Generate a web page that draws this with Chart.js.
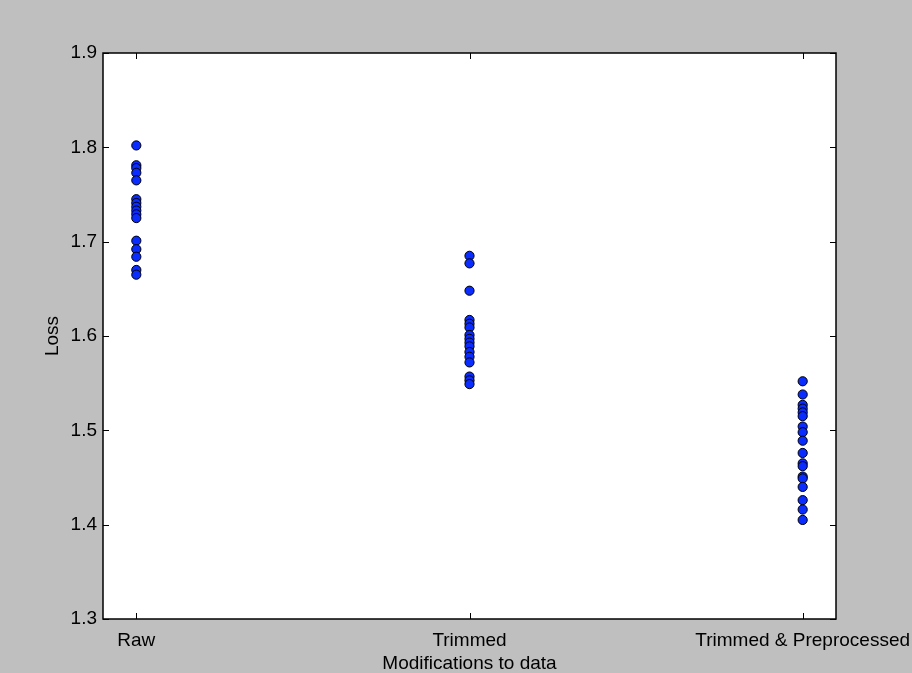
<!DOCTYPE html>
<html>
<head>
<meta charset="utf-8">
<script src="https://cdn.jsdelivr.net/npm/chart.js@4/dist/chart.umd.min.js"></script>
<style>
    html, body { margin: 0; padding: 0; background: #bfbfbf; }
    #wrap { width: 912px; height: 673px; }
</style>
</head>
<body>
<div id="wrap"><canvas id="mainChart" width="912" height="673"></canvas></div>
<script>
// data
const categories = ['Raw', 'Trimmed', 'Trimmed & Preprocessed'];
const rawLoss = [1.802, 1.781, 1.778, 1.773, 1.765, 1.745, 1.741, 1.737, 1.733, 1.729, 1.725, 1.701, 1.692, 1.684, 1.670, 1.665];
const trimmedLoss = [1.685, 1.677, 1.648, 1.617, 1.613, 1.609, 1.601, 1.597, 1.593, 1.589, 1.583, 1.578, 1.572, 1.557, 1.553, 1.549];
const preprocessedLoss = [1.552, 1.538, 1.527, 1.523, 1.519, 1.515, 1.504, 1.498, 1.489, 1.476, 1.465, 1.462, 1.451, 1.449, 1.440, 1.426, 1.416, 1.405];
const yTicks = [1.3, 1.4, 1.5, 1.6, 1.7, 1.8, 1.9];

const seriesList = [rawLoss, trimmedLoss, preprocessedLoss];
const points = [];
seriesList.forEach((vals, i) => {
    vals.forEach(v => points.push({ x: i, y: v }));
});

const font = { family: '"Liberation Sans", Arial, sans-serif', size: 19 };

// matplotlib-style frame with inward ticks
const framePlugin = {
    id: 'frame',
    afterDatasetsDraw(chart) {
        const { ctx, chartArea: a, scales } = chart;
        ctx.save();
        ctx.strokeStyle = '#000';
        ctx.lineWidth = 1;
        const len = 6;
        ctx.beginPath();
        scales.x.ticks.forEach(t => {
            const px = Math.round(scales.x.getPixelForValue(t.value)) + 0.5;
            ctx.moveTo(px, a.bottom); ctx.lineTo(px, a.bottom - len);
            ctx.moveTo(px, a.top); ctx.lineTo(px, a.top + len);
        });
        scales.y.ticks.forEach(t => {
            const py = Math.round(scales.y.getPixelForValue(t.value)) + 0.5;
            ctx.moveTo(a.left, py); ctx.lineTo(a.left + len, py);
            ctx.moveTo(a.right, py); ctx.lineTo(a.right - len, py);
        });
        ctx.stroke();
        ctx.lineWidth = 1.5;
        ctx.strokeRect(a.left, a.top, a.right - a.left, a.bottom - a.top);
        ctx.restore();
    }
};

const bgPlugin = {
    id: 'bg',
    beforeDraw(chart) {
        const { ctx, chartArea: a } = chart;
        ctx.save();
        ctx.fillStyle = '#bfbfbf';
        ctx.fillRect(0, 0, chart.width, chart.height);
        ctx.fillStyle = '#ffffff';
        ctx.fillRect(a.left, a.top, a.right - a.left, a.bottom - a.top);
        ctx.restore();
    }
};

new Chart(document.getElementById('mainChart'), {
    type: 'scatter',
    data: {
        datasets: [{
            label: 'Loss',
            data: points,
            backgroundColor: '#0a2cff',
            borderColor: '#000',
            borderWidth: 1,
            pointRadius: 4.6,
            pointHoverRadius: 4.6
        }]
    },
    options: {
        responsive: false,
        animation: false,
        layout: { padding: { top: 53, right: 76, left: 0, bottom: 0 } },
        plugins: { legend: { display: false }, tooltip: { enabled: false } },
        scales: {
            x: {
                type: 'linear',
                min: -0.1,
                max: 2.1,
                afterBuildTicks: s => { s.ticks = categories.map((c, i) => ({ value: i })); },
                afterFit: s => { s.height = 54; s.paddingLeft = 0; s.paddingRight = 0; },
                grid: { display: false, drawTicks: false, tickLength: 0 },
                border: { display: false },
                ticks: {
                    color: '#000',
                    font: font,
                    padding: 10,
                    maxRotation: 0,
                    autoSkip: false,
                    callback: v => categories[v]
                },
                title: { display: true, text: 'Modifications to data', color: '#000', font: { ...font, lineHeight: 1.0 }, padding: 0 }
            },
            y: {
                min: 1.3,
                max: 1.9,
                afterBuildTicks: s => { s.ticks = yTicks.map(v => ({ value: v })); },
                afterFit: s => { s.width = 103; },
                grid: { display: false, drawTicks: false, tickLength: 0 },
                border: { display: false },
                ticks: {
                    color: '#000',
                    font: font,
                    padding: 6,
                    callback: v => v.toFixed(1)
                },
                title: { display: true, text: 'Loss', color: '#000', font: font, padding: { top: 41, bottom: 0 } }
            }
        }
    },
    plugins: [bgPlugin, framePlugin]
});
</script>
</body>
</html>
